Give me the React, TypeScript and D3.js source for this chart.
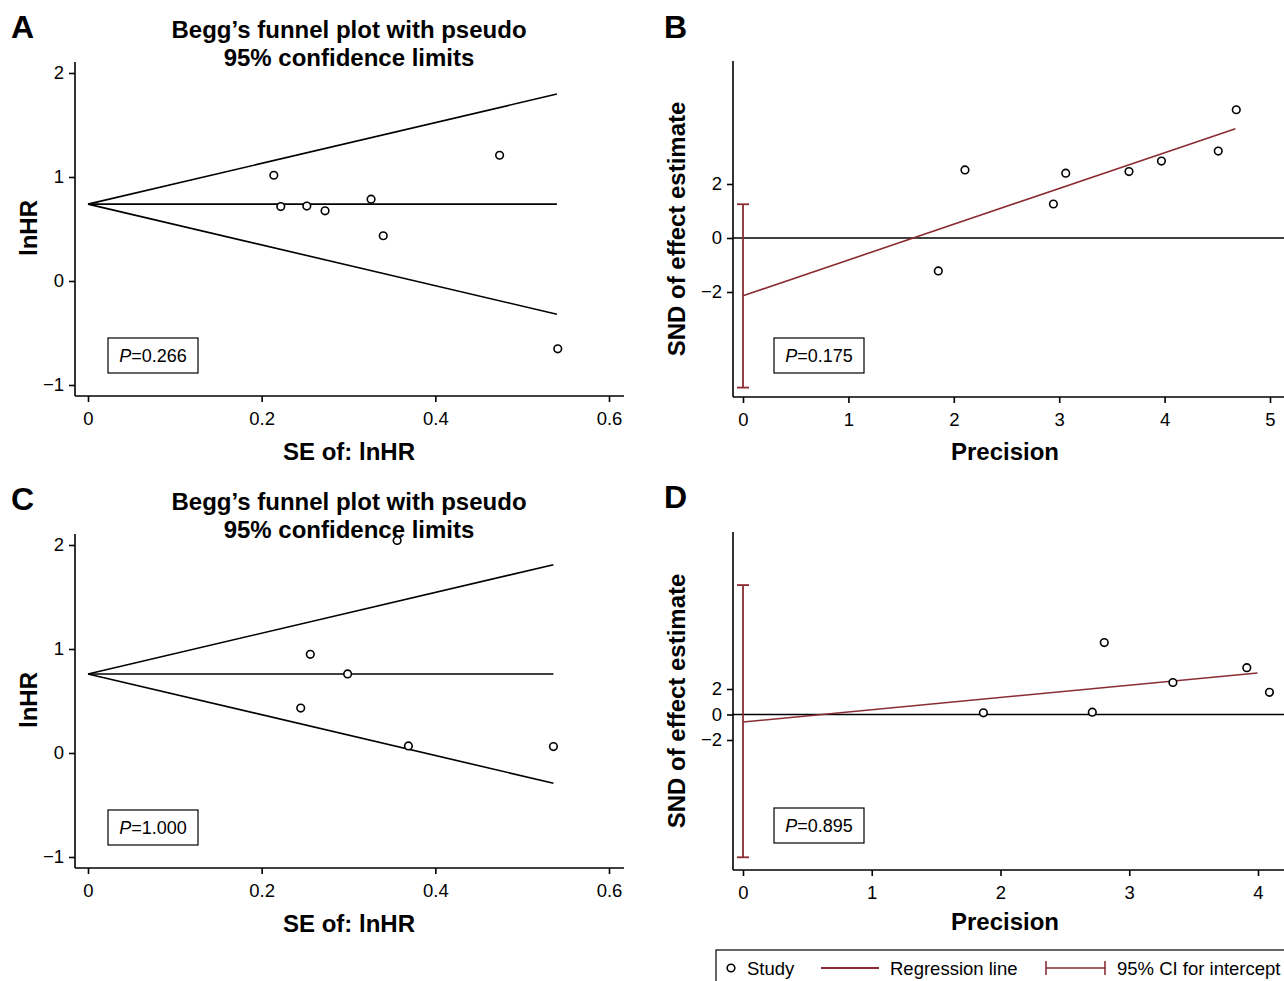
import React, { useRef, useEffect } from 'react';
import * as d3 from 'd3';

// Panel A: Begg's funnel (SE vs lnHR)
const seA = [0.214, 0.222, 0.252, 0.273, 0.326, 0.34, 0.474, 0.541];
const lnhrA = [1.017, 0.716, 0.72, 0.675, 0.787, 0.435, 1.209, -0.652];
const pooledA = 0.739;
const seMaxA = 0.54;

// Panel C: Begg's funnel
const seC = [0.356, 0.256, 0.299, 0.245, 0.369, 0.536];
const lnhrC = [2.044, 0.949, 0.76, 0.432, 0.068, 0.062];
const pooledC = 0.76;
const seMaxC = 0.536;

// Panel B: Egger (precision vs SND)
const precB = [1.853, 2.106, 2.945, 3.062, 3.662, 3.97, 4.509, 4.68];
const sndB = [-1.22, 2.52, 1.26, 2.4, 2.46, 2.85, 3.22, 4.75];
const interceptB = -2.14;
const slopeB = 1.325;
const regEndB = 4.672;
const ciB = [-5.54, 1.25];

// Panel D: Egger
const precD = [1.867, 2.713, 2.806, 3.339, 3.913, 4.089];
const sndD = [0.13, 0.18, 5.64, 2.51, 3.67, 1.74];
const interceptD = -0.59;
const slopeD = 0.963;
const regEndD = 3.996;
const ciD = [-11.2, 10.15];

const funnelXTicks = [0, 0.2, 0.4, 0.6];
const funnelYTicks = [-1, 0, 1, 2];
const eggerYTicks = [-2, 0, 2];
const eggerXTicksB = [0, 1, 2, 3, 4, 5];
const eggerXTicksD = [0, 1, 2, 3, 4];

const pValues = ['0.266', '0.175', '1.000', '0.895'];
const legendLabels = ['Study', 'Regression line', '95% CI for intercept'];

const RED = '#8b2c33';
const BOLD = '"Liberation Sans", Arial, sans-serif';
const TICKF = '"Liberation Sans Narrow", "Arial Narrow", "Liberation Sans", Arial, sans-serif';

const fmtTick = (d: number) => (d < 0 ? '\u2212' + Math.abs(d) : String(d));

const App: React.FC = () => {
  const svgRef = useRef<SVGSVGElement>(null);

  useEffect(() => {
    const svg = d3.select(svgRef.current);
    svg.selectAll('*').remove();

    const W = 1284;

    const drawAxes = (
      g: any,
      x: d3.ScaleLinear<number, number>,
      y: d3.ScaleLinear<number, number>,
      axisX: number, yTop: number, axisY: number, xRight: number,
      xt: number[], yt: number[],
      xFmt: (d: number) => string
    ) => {
      g.append('line').attr('x1', axisX).attr('x2', axisX).attr('y1', yTop).attr('y2', axisY)
        .attr('stroke', '#000').attr('stroke-width', 1.6);
      g.append('line').attr('x1', axisX).attr('x2', xRight).attr('y1', axisY).attr('y2', axisY)
        .attr('stroke', '#000').attr('stroke-width', 1.6);

      const ya = g.append('g').attr('transform', `translate(${axisX},0)`)
        .call(d3.axisLeft(y).tickValues(yt).tickSize(6).tickPadding(5).tickFormat(fmtTick as any));
      const xa = g.append('g').attr('transform', `translate(0,${axisY})`)
        .call(d3.axisBottom(x).tickValues(xt).tickSize(6).tickPadding(10).tickFormat(xFmt as any));
      [ya, xa].forEach(a => {
        a.select('.domain').remove();
        a.selectAll('line').attr('stroke', '#000').attr('stroke-width', 1.6);
        a.selectAll('text').attr('font-family', TICKF).attr('font-size', 18.5).attr('fill', '#000');
      });
    };

    const pBox = (g: any, bx: number, by: number, p: string) => {
      g.append('rect').attr('x', bx).attr('y', by).attr('width', 90).attr('height', 35)
        .attr('fill', '#fff').attr('stroke', '#000').attr('stroke-width', 1.2);
      const t = g.append('text').attr('x', bx + 45).attr('y', by + 24).attr('text-anchor', 'middle')
        .attr('font-family', TICKF).attr('font-size', 18);
      t.append('tspan').attr('font-style', 'italic').text('P');
      t.append('tspan').text('=' + p);
    };

    const letter = (g: any, lx: number, ly: number, s: string) => {
      g.append('text').attr('x', lx).attr('y', ly).attr('font-family', BOLD).attr('font-weight', 'bold')
        .attr('font-size', 32).text(s);
    };

    const drawFunnel = (oy: number, se: number[], lnhr: number[], pooled: number, seMax: number,
      L: string, p: string) => {
      const g = svg.append('g').attr('transform', `translate(0,${oy})`);
      const x = d3.scaleLinear().domain([0, 0.6]).range([88, 609]);
      const y = d3.scaleLinear().domain([-1, 2]).range([385, 73]);
      letter(g, 11, 38, L);
      const title = g.append('text').attr('text-anchor', 'middle').attr('font-family', BOLD)
        .attr('font-weight', 'bold').attr('font-size', 24);
      title.append('tspan').attr('x', 349).attr('y', 38).text('Begg\u2019s funnel plot with pseudo');
      title.append('tspan').attr('x', 349).attr('y', 66).text('95% confidence limits');

      drawAxes(g, x, y, 75, 62, 396, 624, funnelXTicks, funnelYTicks, d => String(d));

      const z = 1.96;
      const lines: [number, number][][] = [
        [[0, pooled], [seMax, pooled + z * seMax]],
        [[0, pooled], [seMax, pooled]],
        [[0, pooled], [seMax, pooled - z * seMax]],
      ];
      const lg = d3.line<[number, number]>().x(d => x(d[0])).y(d => y(d[1]));
      g.selectAll('path.funnel').data(lines).join('path').attr('class', 'funnel')
        .attr('d', lg).attr('fill', 'none').attr('stroke', '#000').attr('stroke-width', 1.6);

      g.selectAll('circle.pt').data(se.map((s, i) => [s, lnhr[i]])).join('circle').attr('class', 'pt')
        .attr('cx', (d: number[]) => x(d[0])).attr('cy', (d: number[]) => y(d[1])).attr('r', 3.8)
        .attr('fill', '#fff').attr('stroke', '#000').attr('stroke-width', 1.6);

      pBox(g, 108, 338, p);

      g.append('text').attr('transform', `translate(37,228) rotate(-90)`).attr('text-anchor', 'middle')
        .attr('font-family', BOLD).attr('font-weight', 'bold').attr('font-size', 24).text('lnHR');
      g.append('text').attr('x', 349).attr('y', 460).attr('text-anchor', 'middle')
        .attr('font-family', BOLD).attr('font-weight', 'bold').attr('font-size', 24).text('SE of: lnHR');
    };

    const drawEgger = (oy: number, prec: number[], snd: number[], b0: number, b1: number, xEnd: number,
      ci: number[], xMax: number, xPxMax: number, yScale: [number, number, number, number],
      yTop: number, axisY: number, xt: number[], L: string, p: string, ylabY: number) => {
      const g = svg.append('g').attr('transform', `translate(0,${oy})`);
      const x = d3.scaleLinear().domain([0, xMax]).range([743, xPxMax]);
      const y = d3.scaleLinear().domain([yScale[0], yScale[1]]).range([yScale[2], yScale[3]]);
      letter(g, 664, 38, L);

      drawAxes(g, x, y, 733, yTop, axisY, W, xt, eggerYTicks, d => String(d));

      g.append('line').attr('x1', 733).attr('x2', W).attr('y1', y(0)).attr('y2', y(0))
        .attr('stroke', '#000').attr('stroke-width', 1.4);

      // CI for intercept
      const cx = x(0);
      g.append('line').attr('x1', cx).attr('x2', cx).attr('y1', y(ci[0])).attr('y2', y(ci[1]))
        .attr('stroke', RED).attr('stroke-width', 1.8);
      ci.forEach(v => {
        g.append('line').attr('x1', cx - 6).attr('x2', cx + 6).attr('y1', y(v)).attr('y2', y(v))
          .attr('stroke', RED).attr('stroke-width', 1.8);
      });

      g.append('line').attr('x1', x(0)).attr('y1', y(b0)).attr('x2', x(xEnd)).attr('y2', y(b0 + b1 * xEnd))
        .attr('stroke', RED).attr('stroke-width', 1.6);

      g.selectAll('circle.pt').data(prec.map((s, i) => [s, snd[i]])).join('circle').attr('class', 'pt')
        .attr('cx', (d: number[]) => x(d[0])).attr('cy', (d: number[]) => y(d[1])).attr('r', 3.8)
        .attr('fill', '#fff').attr('stroke', '#000').attr('stroke-width', 1.6);

      pBox(g, 774, 338, p);

      g.append('text').attr('transform', `translate(685,${ylabY}) rotate(-90)`).attr('text-anchor', 'middle')
        .attr('font-family', BOLD).attr('font-weight', 'bold').attr('font-size', 24)
        .text('SND of effect estimate');
      g.append('text').attr('x', 1005).attr('y', 460).attr('text-anchor', 'middle')
        .attr('font-family', BOLD).attr('font-weight', 'bold').attr('font-size', 24).text('Precision');
    };

    drawFunnel(0, seA, lnhrA, pooledA, seMaxA, 'A', pValues[0]);
    drawFunnel(472, seC, lnhrC, pooledC, seMaxC, 'C', pValues[2]);
    drawEgger(0, precB, sndB, interceptB, slopeB, regEndB, ciB, 5, 1270, [-2, 2, 292, 184],
      61, 397, eggerXTicksB, 'B', pValues[1], 229);
    drawEgger(470, precD, sndD, interceptD, slopeD, regEndD, ciD, 4, 1258, [-2, 2, 270, 219],
      62, 400, eggerXTicksD, 'D', pValues[3], 231);

    // legend
    const lgd = svg.append('g');
    lgd.append('rect').attr('x', 716).attr('y', 950).attr('width', 600).attr('height', 60)
      .attr('fill', '#fff').attr('stroke', '#000').attr('stroke-width', 1.2);
    lgd.append('circle').attr('cx', 731).attr('cy', 968).attr('r', 3.8)
      .attr('fill', '#fff').attr('stroke', '#000').attr('stroke-width', 1.6);
    lgd.append('line').attr('x1', 821).attr('x2', 879).attr('y1', 968).attr('y2', 968)
      .attr('stroke', RED).attr('stroke-width', 2.2);
    lgd.append('line').attr('x1', 1046).attr('x2', 1105).attr('y1', 968).attr('y2', 968)
      .attr('stroke', RED).attr('stroke-width', 1.6);
    [1046, 1105].forEach(v => lgd.append('line').attr('x1', v).attr('x2', v).attr('y1', 961).attr('y2', 975)
      .attr('stroke', RED).attr('stroke-width', 1.6));
    const lx = [747, 890, 1117];
    legendLabels.forEach((t, i) => {
      lgd.append('text').attr('x', lx[i]).attr('y', 975).attr('font-family', TICKF)
        .attr('font-size', 18.5).text(t);
    });
  }, []);

  return (
    <svg ref={svgRef} width={1284} height={981}
      style={{ position: 'absolute', left: 0, top: 0, background: '#fff' }} />
  );
};

export default App;
